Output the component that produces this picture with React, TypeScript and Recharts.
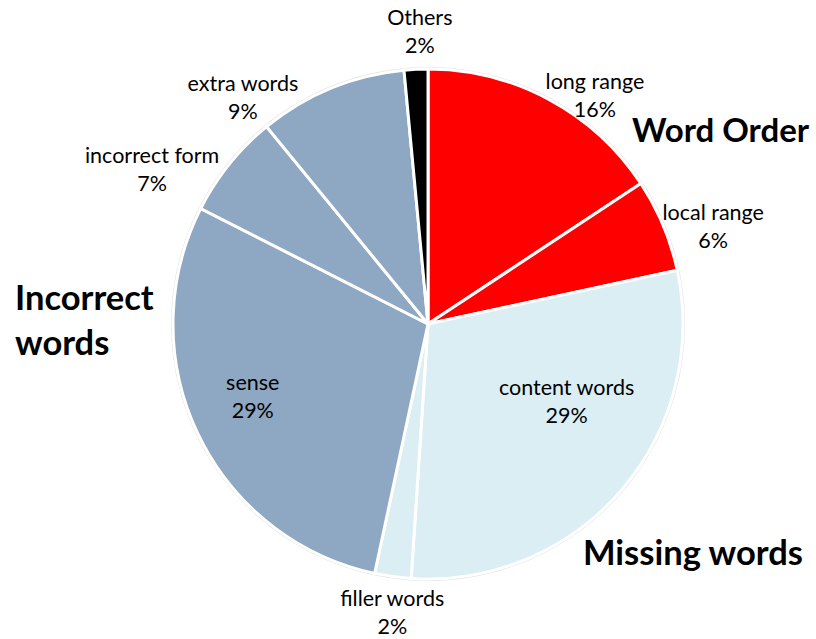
import React from 'react';
import { PieChart, Pie, Cell } from 'recharts';

const categories = [
  'long range',
  'local range',
  'content words',
  'filler words',
  'sense',
  'incorrect form',
  'extra words',
  'Others',
];
const shares = [15.7, 5.9, 29.4, 2.3, 29.1, 6.6, 9.4, 1.5];
const groups = ['Word Order', 'Missing words', 'Incorrect words'];

const sliceColors = [
  '#FF0000',
  '#FF0000',
  '#DAEEF3',
  '#DAEEF3',
  '#8EA7C3',
  '#8EA7C3',
  '#8EA7C3',
  '#000000',
];

// label placement: distance from centre and clockwise angle from 12 o'clock
const labelRadius = [284, 302, 158, 289, 189, 317, 294, 294];
const labelAngle = [36, 70.8, 118.7, 187.1, 248, 299.5, 321, 358.4];

const data = categories.map((name, i) => ({ name, value: shares[i] }));
const total = shares.reduce((a, b) => a + b, 0);

const FONT = 'Lato, "Open Sans", sans-serif';

function renderLabel(props: any) {
  const { cx, cy, index } = props;
  const a = (labelAngle[index] * Math.PI) / 180;
  const r = labelRadius[index];
  const x = cx + r * Math.sin(a);
  const y = cy - r * Math.cos(a);
  const pct = Math.round((shares[index] / total) * 100);
  return (
    <text
      key={`lbl-${index}`}
      x={x}
      y={y}
      textAnchor="middle"
      fontFamily={FONT}
      fontSize={21.5}
      fill="#000"
    >
      <tspan x={x} dy={-5}>
        {categories[index]}
      </tspan>
      <tspan x={x} dy={28}>
        {pct}%
      </tspan>
    </text>
  );
}

export default function App() {
  return (
    <div style={{ position: 'absolute', left: 0, top: 0, width: 816, height: 639, background: '#fff' }}>
      <PieChart width={816} height={639} margin={{ top: 0, right: 0, bottom: 0, left: 0 }}>
        <Pie
          data={[{ name: 'edge', value: 1 }]}
          dataKey="value"
          cx={428}
          cy={324}
          outerRadius={257}
          startAngle={90}
          endAngle={-270}
          fill="#E2E2E2"
          stroke="none"
          isAnimationActive={false}
        />
        <Pie
          data={data}
          dataKey="value"
          cx={428}
          cy={324}
          outerRadius={255}
          startAngle={90}
          endAngle={-270}
          stroke="#FFFFFF"
          strokeWidth={3}
          label={renderLabel}
          labelLine={false}
          isAnimationActive={false}
        >
          {data.map((d, i) => (
            <Cell key={d.name} fill={sliceColors[i]} />
          ))}
        </Pie>
      </PieChart>
      <svg
        width={816}
        height={639}
        style={{ position: 'absolute', left: 0, top: 0, pointerEvents: 'none' }}
      >
        <g fontFamily={FONT} fontWeight={700} fontSize={34.5} fill="#000">
          <text x={632} y={142} fontSize={33}>{groups[0]}</text>
          <text x={583} y={565}>{groups[1]}</text>
          <text x={15} y={310}>{groups[2].split(' ')[0]}</text>
          <text x={15} y={355}>{groups[2].split(' ')[1]}</text>
        </g>
      </svg>
    </div>
  );
}
